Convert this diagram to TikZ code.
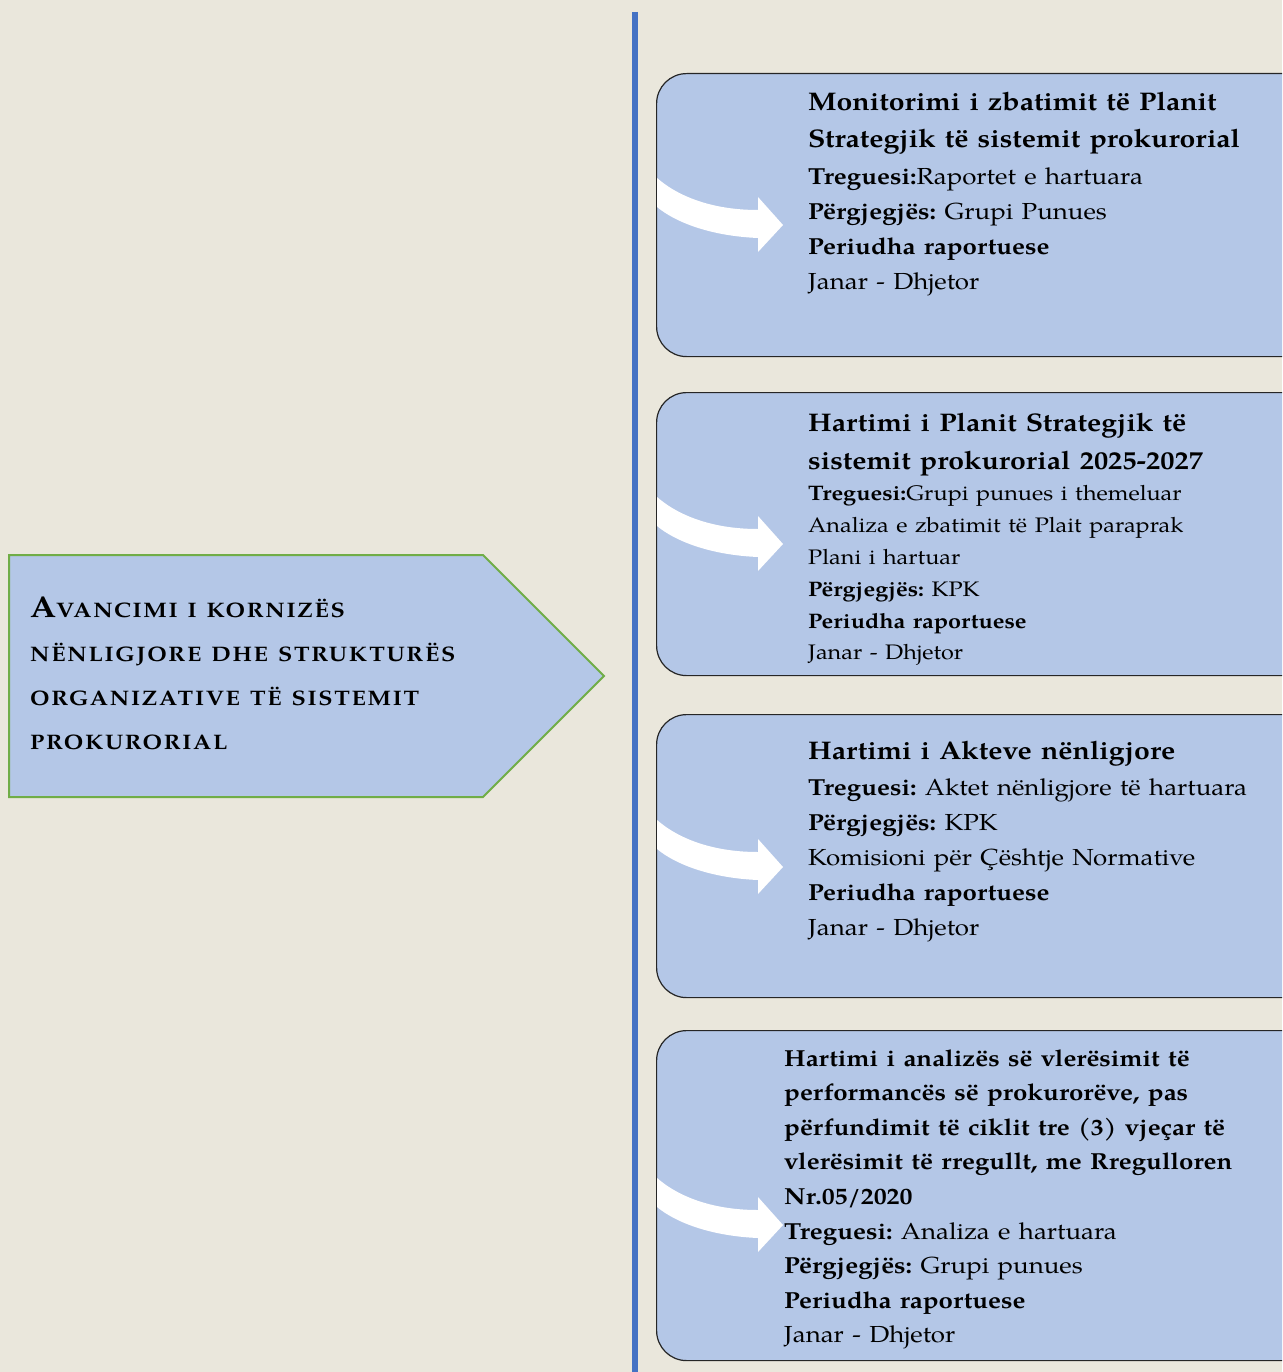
\documentclass[tikz,border=0pt]{standalone}
\usepackage{fontspec}
\setmainfont{TeX Gyre Pagella}[FakeStretch=1.115]
\definecolor{bg}{RGB}{234,231,220}
\definecolor{boxblue}{RGB}{180,199,231}
\definecolor{lineblue}{RGB}{68,114,196}
\definecolor{pentgreen}{RGB}{112,173,71}
\newcommand\fs[2]{\fontsize{#1}{#2}\selectfont\frenchspacing\spaceskip=0.36em plus 0.1em\relax}
\newcommand\bigA[1]{{\fontsize{30}{44}\selectfont #1}}
\newcommand\widespaces{\spaceskip=10pt plus 2pt\relax}
\newcommand\whitearrow[1]{%
  \fill[white, shift={(0,#1)}] (657,178) .. controls (680,198) and (715,210) .. (758,210)
    -- (758,197) -- (783,225) -- (758,252) -- (758,238)
    .. controls (710,236) and (675,222) .. (657,207) -- cycle;}
\begin{document}
\begin{tikzpicture}[x=1pt,y=-1pt,
  bx/.style={draw=black!85, line width=1.2pt, fill=boxblue, rounded corners=30pt,
    minimum width=660pt, anchor=north west, inner sep=0pt},
  txt/.style={anchor=base west, inner sep=0pt, text width=480pt, align=left},
  vline/.style={draw=lineblue, line width=6pt},
  pent/.style={draw=pentgreen, line width=2pt, fill=boxblue}]
\useasboundingbox (0,0) rectangle (1282,1372);
\fill[bg] (0,0) rectangle (1282,1372);
\clip (0,0) rectangle (1282,1372);
% vertical line
\coordinate (vtop) at (635,12);
\coordinate (vbot) at (635,1380);
\draw[vline] (vtop) -- (vbot);
% left pentagon
\draw[pent] (9,555) -- (483,555) -- (604,676) -- (483,797) -- (9,797) -- cycle;
\node[anchor=base west, inner sep=0pt, text width=540pt, align=left,
  font=\fs{21}{44}\bfseries\addfontfeatures{LetterSpace=8}] (lt) at (30,617)
  {\widespaces\bigA{A}VANCIMI I KORNIZËS\\NËNLIGJORE DHE STRUKTURËS\\ORGANIZATIVE TË SISTEMIT\\PROKURORIAL};
% boxes
\node[bx, minimum height=283pt] (b1) at (656,73) {};
\node[bx, minimum height=283pt] (b2) at (656,392) {};
\node[bx, minimum height=283pt] (b3) at (656,714) {};
\node[bx, minimum height=330pt] (b4) at (656,1030) {};
% arrows
\whitearrow{0}
\whitearrow{319}
\whitearrow{642}
\whitearrow{1000}
% texts
\node[txt] (t1) at (808,111)
  {\fs{25.5}{37}\bfseries Monitorimi i zbatimit të Planit\\Strategjik të sistemit prokurorial\par
   \fs{23.2}{35}\mdseries\vspace{1.5pt}\textbf{Treguesi:}Raportet e hartuara\\\textbf{Përgjegjës:} Grupi Punues\\\textbf{Periudha raportuese}\\Janar - Dhjetor\par};
\node[txt] (t2) at (808,431)
  {\fs{25.5}{38}\bfseries Hartimi i Planit Strategjik të\\sistemit prokurorial 2025-2027\par
   \fs{21}{31.8}\mdseries\textbf{Treguesi:}Grupi punues i themeluar\\Analiza e zbatimit të Plait paraprak\\Plani i hartuar\\\textbf{Përgjegjës:} KPK\\\textbf{Periudha raportuese}\\Janar - Dhjetor\par};
\node[txt] (t3) at (808,759)
  {\fs{25.5}{37}\bfseries Hartimi i Akteve nënligjore\par
   \fs{23.2}{35}\mdseries\vspace{1.5pt}\textbf{Treguesi:} Aktet nënligjore të hartuara\\\textbf{Përgjegjës:} KPK\\Komisioni për Çështje Normative\\\textbf{Periudha raportuese}\\Janar - Dhjetor\par};
\node[txt] (t4) at (784,1066)
  {\fs{23.2}{34.6}\bfseries Hartimi i analizës së vlerësimit të\\performancës së prokurorëve, pas\\përfundimit të ciklit tre (3) vjeçar të\\vlerësimit të rregullt, me Rregulloren\\Nr.05/2020\par
   \mdseries\textbf{Treguesi:} Analiza e hartuara\\\textbf{Përgjegjës:} Grupi punues\\\textbf{Periudha raportuese}\\Janar - Dhjetor\par};
\end{tikzpicture}
\end{document}
